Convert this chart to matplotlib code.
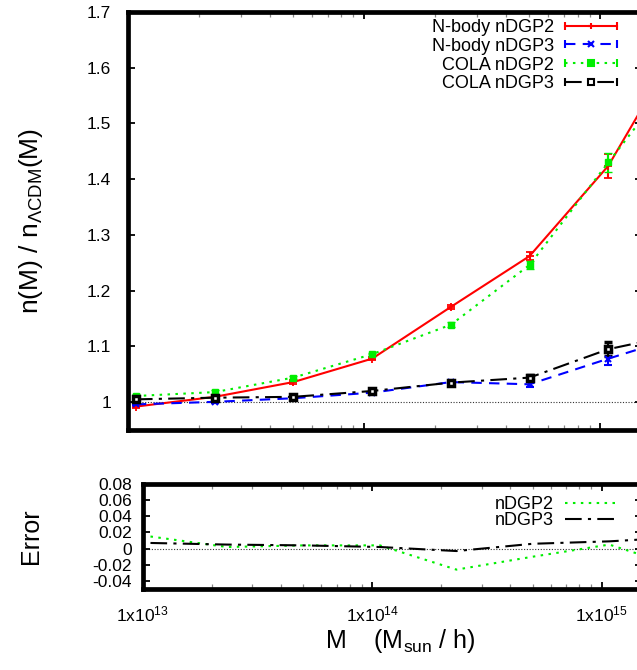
import matplotlib
matplotlib.use('Agg')
import matplotlib.pyplot as plt
from matplotlib.lines import Line2D
from matplotlib.legend_handler import HandlerLine2D, HandlerTuple
from matplotlib.ticker import FixedLocator, FixedFormatter, LogLocator, NullFormatter

plt.rcParams['font.family'] = ['Liberation Sans', 'DejaVu Sans']
plt.rcParams['mathtext.fontset'] = 'custom'
plt.rcParams['mathtext.rm'] = 'Liberation Sans'
plt.rcParams['mathtext.it'] = 'Liberation Sans:italic'
plt.rcParams['mathtext.bf'] = 'Liberation Sans:bold'

# halo mass bins (M_sun / h)
mass = [1.08e13, 2.33e13, 5.01e13, 1.08e14, 2.33e14, 5.01e14, 1.08e15, 2.33e15]

# n(M) / n_LCDM(M)
nbody_dgp2 = [0.992, 1.0095, 1.036, 1.078, 1.171, 1.262, 1.424, 1.666]
nbody_dgp3 = [0.996, 1.0005, 1.007, 1.017, 1.036, 1.032, 1.078, 1.122]
cola_dgp2 = [1.011, 1.018, 1.044, 1.086, 1.139, 1.246, 1.430, 1.613]
cola_dgp3 = [1.005, 1.008, 1.0095, 1.020, 1.035, 1.044, 1.095, 1.125]

err_nbody_dgp2 = [0.003, 0.003, 0.003, 0.003, 0.004, 0.007, 0.021, 0.04]
err_nbody_dgp3 = [0.002, 0.002, 0.002, 0.002, 0.003, 0.004, 0.012, 0.03]
err_cola_dgp2 = [0.003, 0.003, 0.003, 0.003, 0.004, 0.007, 0.017, 0.04]
err_cola_dgp3 = [0.002, 0.002, 0.002, 0.002, 0.003, 0.004, 0.013, 0.03]

# relative error COLA vs N-body
error_dgp2 = [0.015, 0.002, 0.004, 0.004, -0.026, -0.010, 0.005, -0.0255]
error_dgp3 = [0.007, 0.005, 0.004, 0.002, -0.003, 0.006, 0.009, 0.0145]

yticks_top = [1.0, 1.1, 1.2, 1.3, 1.4, 1.5, 1.6, 1.7]
yticklabels_top = ['1', '1.1', '1.2', '1.3', '1.4', '1.5', '1.6', '1.7']
yticks_bot = [0.08, 0.06, 0.04, 0.02, 0.0, -0.02, -0.04]
yticklabels_bot = ['0.08', '0.06', '0.04', '0.02', '0', '-0.02', '-0.04']
xticks = [1e13, 1e14, 1e15]
xticklabels = [r'1x10$^{13}$', r'1x10$^{14}$', r'1x10$^{15}$']

W, H = 637, 670
fig = plt.figure(figsize=(W / 100, H / 100), dpi=100)

# axes boxes in pixels; the right edge runs off the picture
ax1 = fig.add_axes([128 / W, (H - 430) / H, (642 - 128) / W, (430 - 12) / H])
ax2 = fig.add_axes([142.8 / W, (H - 589) / H, (642 - 142.8) / W, (589 - 484) / H])

dash_b = (0, (5, 3.5))
dot_g = (0, (1.2, 2.6))
dashdot_k = (0, (8, 3, 1.5, 3))
lw = 1.5

for ax in (ax1, ax2):
    ax.set_xscale('log')
    ax.set_xlim(1e13, 1.5e15)
    for s in ax.spines.values():
        s.set_linewidth(3.4)
    ax.tick_params(which='major', direction='in', length=5, width=1.3,
                   top=True, right=True, labelsize=12.5, color='black')
    ax.tick_params(which='minor', direction='in', length=3.5, width=0.9,
                   top=True, right=True, color='#888888')
    ax.xaxis.set_major_locator(FixedLocator(xticks))
    ax.xaxis.set_minor_locator(LogLocator(base=10, subs=range(2, 10), numticks=20))
    ax.xaxis.set_minor_formatter(NullFormatter())

# top panel
ax1.axhline(1.0, color='#333333', lw=0.8, ls=(0, (1, 1.5)), zorder=1)
ax1.errorbar(mass, nbody_dgp2, yerr=err_nbody_dgp2, color='#ff0000', lw=lw,
             marker='+', ms=6, mew=1.3, capsize=3, elinewidth=1.5, capthick=1.5)
ax1.errorbar(mass, nbody_dgp3, yerr=err_nbody_dgp3, color='#0000ff', lw=lw, ls=dash_b,
             marker='x', ms=5, mew=1.5, capsize=3, elinewidth=1.5, capthick=1.5)
ax1.errorbar(mass, cola_dgp2, yerr=err_cola_dgp2, color='#00ee00', lw=lw, ls=dot_g,
             marker='s', ms=5, mew=1, capsize=3, elinewidth=1.5, capthick=1.5)
ax1.errorbar(mass, cola_dgp3, yerr=err_cola_dgp3, color='black', lw=lw, ls=dashdot_k,
             marker='s', ms=5, mfc='white', mew=2.5, capsize=3, elinewidth=1.5, capthick=1.5)
ax1.set_ylim(0.95, 1.7)
ax1.yaxis.set_major_locator(FixedLocator(yticks_top))
ax1.yaxis.set_major_formatter(FixedFormatter(yticklabels_top))
ax1.tick_params(axis='x', labelbottom=False)
ax1.tick_params(axis='y', pad=12)
ax1.set_ylabel(r'n(M) / n$_{\mathrm{ΛCDM}}$(M)', fontsize=19, va='center')
ax1.yaxis.set_label_coords((31 - 128) / 514, 0.5)

# legend, gnuplot style: text first, sample with end caps
styles = [('N-body nDGP2', '#ff0000', '-', '+', 'none'),
          ('N-body nDGP3', '#0000ff', dash_b, 'x', 'none'),
          ('COLA nDGP2', '#00ee00', dot_g, 's', None),
          ('COLA nDGP3', 'black', dashdot_k, 's', 'white')]
handles, labels, hmap = [], [], {}
for name, c, ls, mk, mfc in styles:
    main = Line2D([], [], color=c, ls=ls, lw=lw, marker=mk, ms=5, mew=1.5,
                  mfc=mfc if mfc else c)
    caps = Line2D([], [], color=c, ls='none', marker='|', ms=6, mew=1.5)
    hmap[caps] = HandlerLine2D(numpoints=2, marker_pad=0)
    handles.append((main, caps))
    labels.append(name)
hmap[tuple] = HandlerTuple(ndivide=1, pad=0)
ax1.legend(handles, labels, handler_map=hmap, markerfirst=False, frameon=False,
           loc='upper right', bbox_to_anchor=(617 / W, (H - 19) / H),
           bbox_transform=fig.transFigure, fontsize=13, handlelength=2.9,
           handletextpad=0.6, labelspacing=0.1, borderpad=0, borderaxespad=0)

# bottom panel
ax2.axhline(0.0, color='#333333', lw=0.8, ls=(0, (1, 1.5)), zorder=1)
ax2.plot(mass, error_dgp2, color='#00ee00', lw=lw, ls=dot_g, label='nDGP2')
ax2.plot(mass, error_dgp3, color='black', lw=lw, ls=dashdot_k, label='nDGP3')
ax2.set_ylim(-0.05, 0.08)
ax2.yaxis.set_major_locator(FixedLocator(yticks_bot))
ax2.yaxis.set_major_formatter(FixedFormatter(yticklabels_bot))
ax2.xaxis.set_major_formatter(FixedFormatter(xticklabels))
ax2.tick_params(axis='x', pad=11)
ax2.tick_params(axis='y', pad=8)
ax2.set_ylabel('Error', fontsize=18, va='center')
ax2.yaxis.set_label_coords((31 - 142.8) / 499.2, 0.5)
ax2.set_xlabel(r'M    (M$_{\mathrm{sun}}$ / h)', fontsize=18, va='center')
ax2.xaxis.set_label_coords((400 - 142.8) / 499.2, (589 - 641) / 105)
ax2.legend(markerfirst=False, frameon=False, loc='upper right',
           bbox_to_anchor=(617 / W, (H - 496) / H), bbox_transform=fig.transFigure,
           fontsize=13, handlelength=2.9, handletextpad=0.6, labelspacing=-0.05,
           borderpad=0, borderaxespad=0)

fig.savefig('out.png', dpi=100)
